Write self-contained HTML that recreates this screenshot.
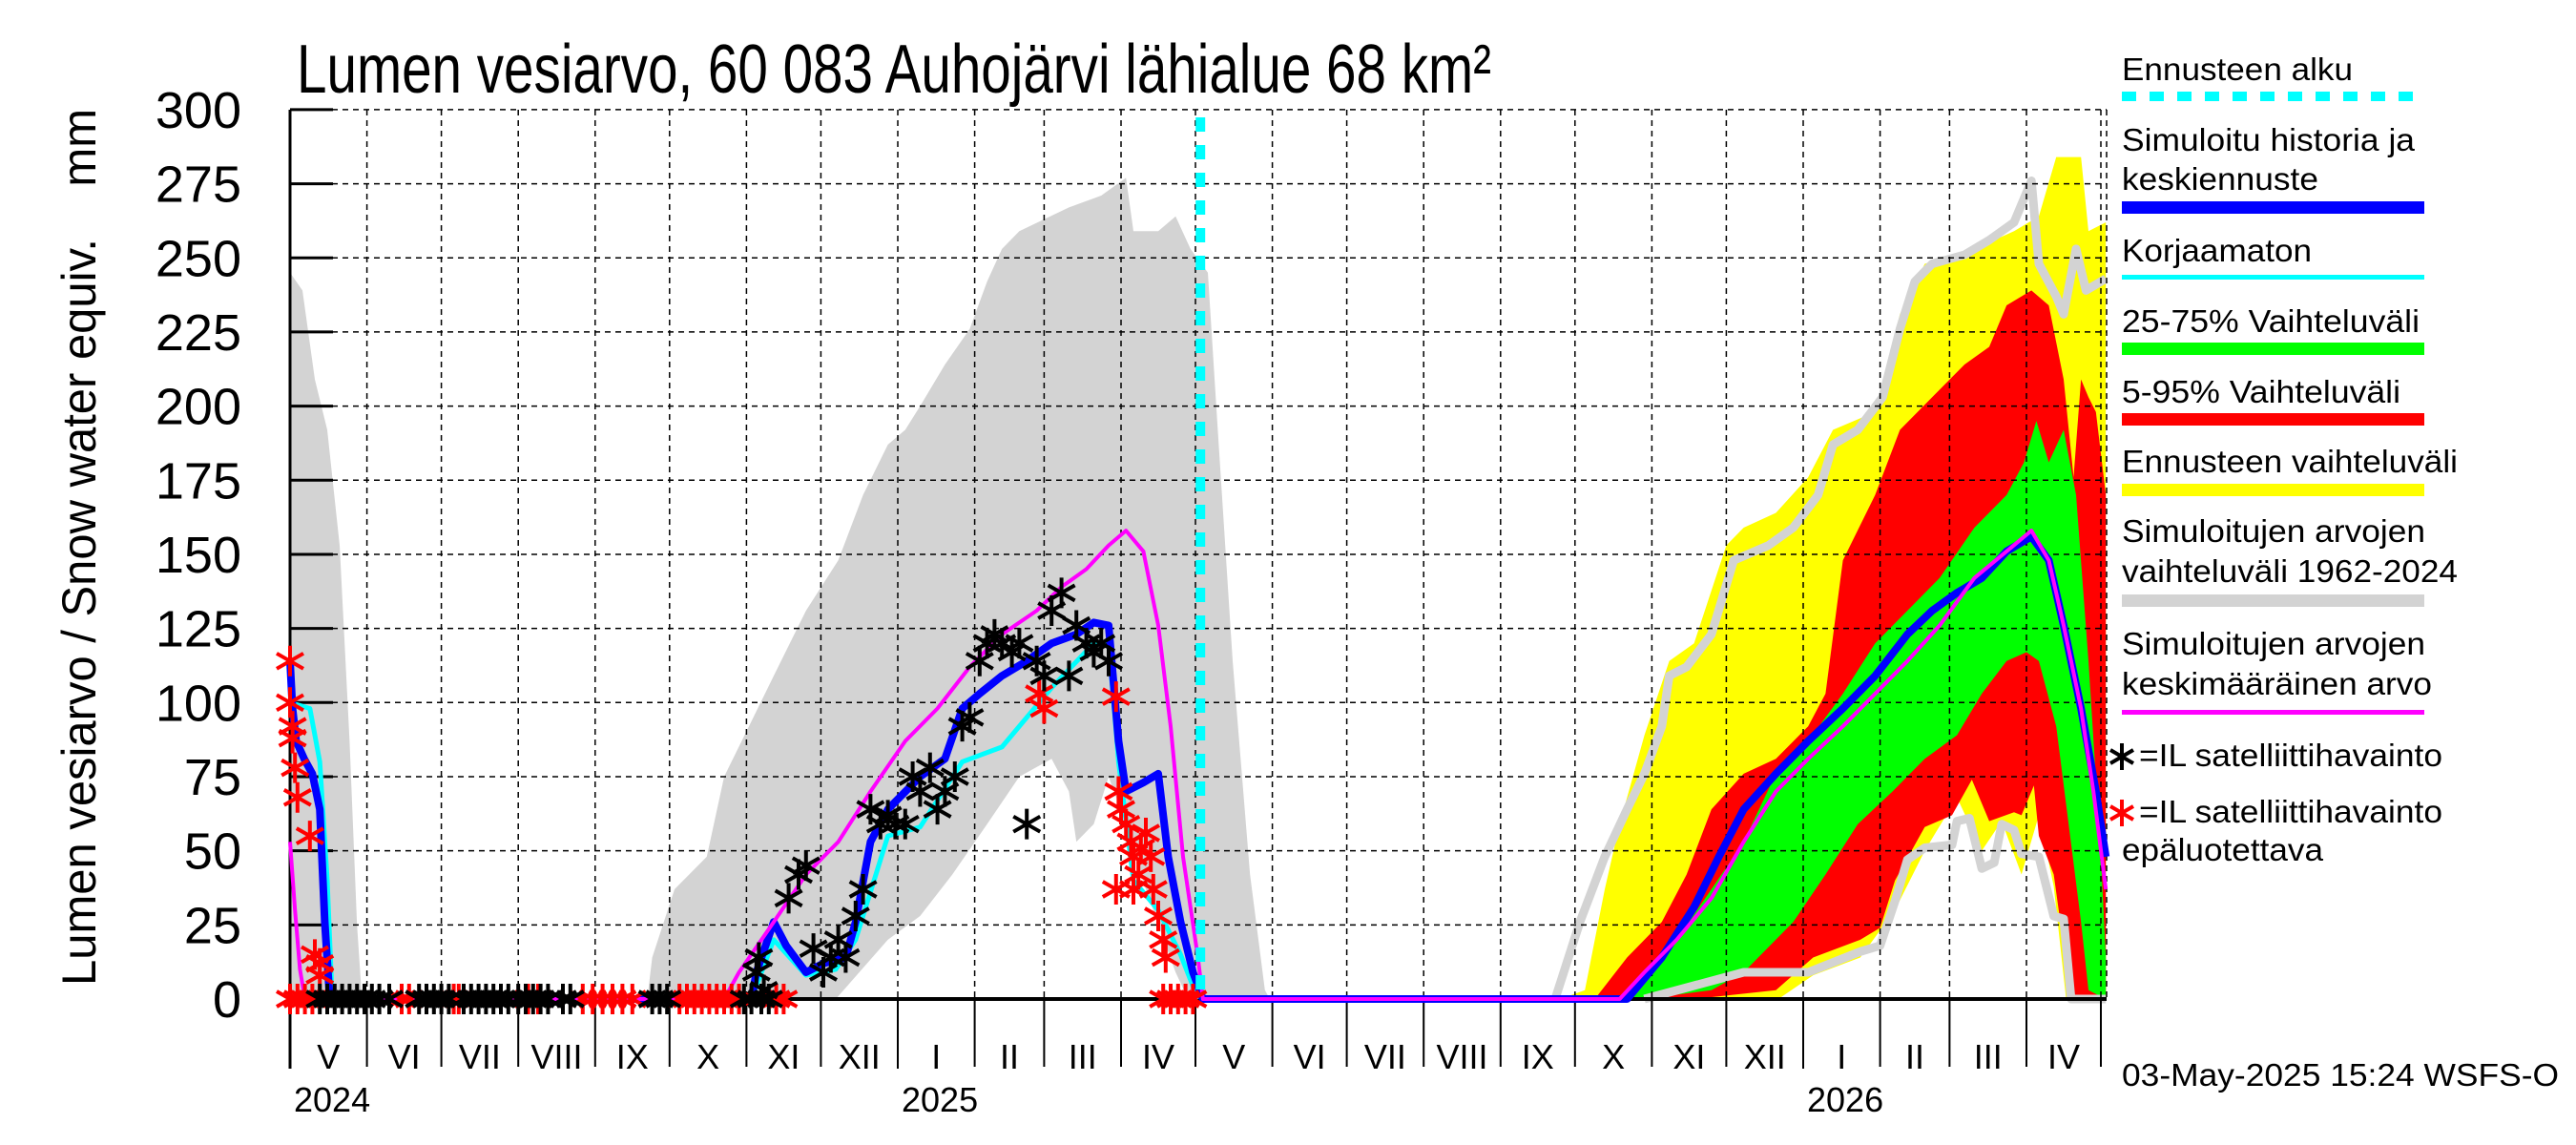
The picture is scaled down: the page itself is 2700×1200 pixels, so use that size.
<!DOCTYPE html>
<html><head><meta charset="utf-8"><title>Lumen vesiarvo</title>
<style>html,body{margin:0;padding:0;background:#fff}svg{display:block}text{font-family:"Liberation Sans",sans-serif;fill:#000}</style>
</head><body>
<svg id="chart" xmlns="http://www.w3.org/2000/svg" width="2700" height="1200" viewBox="0 0 2700 1200">
<rect x="0" y="0" width="2700" height="1200" fill="#fff"/>
<text x="311" y="97" font-size="72" textLength="1252" lengthAdjust="spacingAndGlyphs">Lumen vesiarvo, 60 083 Auhojärvi lähialue 68 km²</text>
<text transform="translate(100,1033) rotate(-90)" font-size="50" textLength="919" lengthAdjust="spacingAndGlyphs" xml:space="preserve">Lumen vesiarvo / Snow water equiv.    mm</text>
<g id="plot"></g>
<g id="legend">
<text x="2224" y="84" font-size="33" textLength="242" lengthAdjust="spacingAndGlyphs">Ennusteen alku</text>
<line x1="2224" y1="101" x2="2541" y2="101" stroke="#00ffff" stroke-width="10" stroke-dasharray="15 14"/>
<text x="2224" y="158" font-size="33" textLength="307" lengthAdjust="spacingAndGlyphs">Simuloitu historia ja</text>
<text x="2224" y="199" font-size="33" textLength="206" lengthAdjust="spacingAndGlyphs">keskiennuste</text>
<rect x="2224" y="211" width="317" height="13" fill="#0000ff"/>
<text x="2224" y="274" font-size="33" textLength="199" lengthAdjust="spacingAndGlyphs">Korjaamaton</text>
<rect x="2224" y="288" width="317" height="5" fill="#00ffff"/>
<text x="2224" y="348" font-size="33" textLength="312" lengthAdjust="spacingAndGlyphs">25-75% Vaihteluväli</text>
<rect x="2224" y="359" width="317" height="13" fill="#00ff00"/>
<text x="2224" y="422" font-size="33" textLength="292" lengthAdjust="spacingAndGlyphs">5-95% Vaihteluväli</text>
<rect x="2224" y="433" width="317" height="13" fill="#ff0000"/>
<text x="2224" y="495" font-size="33" textLength="352" lengthAdjust="spacingAndGlyphs">Ennusteen vaihteluväli</text>
<rect x="2224" y="507" width="317" height="13" fill="#ffff00"/>
<text x="2224" y="568" font-size="33" textLength="318" lengthAdjust="spacingAndGlyphs">Simuloitujen arvojen</text>
<text x="2224" y="610" font-size="33" textLength="352" lengthAdjust="spacingAndGlyphs">vaihteluväli 1962-2024</text>
<rect x="2224" y="623" width="317" height="13" fill="#d3d3d3"/>
<text x="2224" y="686" font-size="33" textLength="318" lengthAdjust="spacingAndGlyphs">Simuloitujen arvojen</text>
<text x="2224" y="728" font-size="33" textLength="325" lengthAdjust="spacingAndGlyphs">keskimääräinen arvo</text>
<rect x="2224" y="744" width="317" height="5" fill="#ff00ff"/>
<g stroke="#000" stroke-width="4"><line x1="2224" y1="779" x2="2224" y2="807"/><line x1="2212" y1="786" x2="2236" y2="800"/><line x1="2212" y1="800" x2="2236" y2="786"/></g>
<text x="2242" y="803" font-size="33" textLength="318" lengthAdjust="spacingAndGlyphs">=IL satelliittihavainto</text>
<g stroke="#ff0000" stroke-width="4"><line x1="2224" y1="838" x2="2224" y2="866"/><line x1="2212" y1="845" x2="2236" y2="859"/><line x1="2212" y1="859" x2="2236" y2="845"/></g>
<text x="2242" y="862" font-size="33" textLength="318" lengthAdjust="spacingAndGlyphs">=IL satelliittihavainto</text>
<text x="2224" y="902" font-size="33" textLength="211" lengthAdjust="spacingAndGlyphs">epäluotettava</text>
</g>
<text x="2224" y="1138" font-size="33" textLength="458" lengthAdjust="spacingAndGlyphs">03-May-2025 15:24 WSFS-O</text>
</svg>
<script>
// Days are counted from 2024-05-01; values in mm
const yTicks=[0,25,50,75,100,125,150,175,200,225,250,275,300];
const monthLabels=['V','VI','VII','VIII','IX','X','XI','XII','I','II','III','IV','V','VI','VII','VIII','IX','X','XI','XII','I','II','III','IV'];
const yearLabels=['2024','2025','2026'];
const forecastDay=367;
const gray1UpDays=[0,5,10,15,20,24,27,29];
const gray1UpVals=[245,239,209,192,153,87,25,0];
const gray2UpDays=[144,146,155,168,175,185,195,208,221,231,241,248,254,264,274,281,287,294,314,327,337,340,350,357,363,370,374,380,387,393,395];
const gray2UpVals=[0,14,37,48,75,92,109,131,148,170,187,192,200,214,226,242,253,259,267,271,277,259,259,264,253,245,192,114,42,3,0];
const gray2LoDays=[144,220,241,254,267,281,294,307,314,317,324,330,337,343,350,357,362,395];
const gray2LoVals=[0,0,20,28,42,59,75,81,70,53,59,75,59,42,25,9,0,0];
const gray3UpDays=[510,520,530,539,546,553,556,563,573,582,596,606,616,622,632,642,649,655,662,675,685,695,702,705,712,715,720,724,732];
const gray3UpVals=[0,26,48,64,76,92,109,112,123,148,153,159,170,187,192,203,226,242,248,251,256,262,276,248,237,231,253,239,243];
const gray3LoDays=[546,586,612,633,641,647,652,659,670,672,677,682,687,690,695,698,705,711,715,718,732];
const gray3LoVals=[0,9,9,16,18,33,47,51,52,60,61,44,46,59,57,49,48,28,27,0,0];
const yelUpDays=[512,522,530,536,546,556,566,579,586,599,612,622,639,649,659,679,695,705,712,722,725,732];
const yelUpVals=[0,3,37,59,89,114,120,153,159,164,176,192,198,231,248,253,259,264,284,284,259,262];
const yelLoDays=[512,600,614,633,647,659,672,682,690,698,705,711,716,732];
const yelLoVals=[0,0,8,14,30,50,68,50,60,42,62,38,0,0];
const redUpDays=[526,539,553,563,573,586,599,612,619,626,639,649,662,675,685,692,702,709,715,719,722,725,728,732];
const redUpVals=[0,14,26,42,64,76,81,92,103,148,170,192,203,214,220,234,239,234,209,176,209,203,198,170];
const redLoDays=[566,599,614,633,641,647,659,670,678,685,695,698,703,705,711,718,732];
const redLoVals=[0,3,14,20,24,40,58,62,74,60,63,62,72,55,42,0,0];
const grnUpDays=[536,546,559,573,586,599,612,626,639,652,665,679,692,699,704,709,715,720,725,730,732];
const grnUpVals=[0,6,20,37,53,76,87,103,120,131,142,159,170,181,195,181,192,170,114,48,14];
const grnLoDays=[546,573,586,606,619,632,646,659,672,682,692,700,705,712,717,722,725,732];
const grnLoVals=[0,3,9,26,42,59,70,81,89,103,114,117,114,92,59,26,3,0];
const blueDays=[0,1,2.5,5.7,9,12,14,16,186,188,195,200,208,215,224,228,234,241,254,264,271,278,287,297,307,317,324,330,334,337,344,350,354,359,364,368,539,553,566,576,586,599,612,626,639,652,662,672,682,692,702,709,715,722,728,732];
const blueVals=[114,98,87,81,76,64,26,0,0,9,26,18,9,12,14,26,53,64,75,81,98,103,109,114,120,123,127,126,87,70,73,76,48,26,9,0,0,14,31,48,64,76,87,98,109,123,131,137,142,151,156,148,126,98,70,48];
const cyanDays=[0,8,12,15,17,186,195,208,220,228,241,254,271,287,307,324,330,334,340,350,359,366];
const cyanVals=[100,98,80,40,0,0,20,8,10,20,55,58,80,85,105,120,120,80,40,30,15,0];
const magDays=[0,2,4,6,175,181,195,208,221,234,248,261,274,287,301,311,321,330,337,344,350,355,360,366,368,536,546,559,573,586,599,612,626,639,652,665,679,692,702,709,715,722,727,732];
const magVals=[53,30,10,0,0,9,26,42,53,70,87,98,112,123,131,139,145,153,158,151,126,92,48,14,0,0,9,20,34,53,70,81,92,103,114,126,142,151,158,148,126,98,70,37];
const blackDays=[189,188,191,201,205,208,211,215,218,221,224,228,231,234,238,241,244,248,251,254,258,261,264,268,271,274,278,281,284,287,291,294,297,301,304,307,311,314,317,321,324,327,330,12,15,18,21,24,27,30,33,36,40,52,55,58,61,64,70,73,76,79,82,85,88,92,95,98,101,104,110,113,146,149,152,183,186,190,193];
const blackVals=[14,9,3,34,42,45,17,9,14,20,14,28,37,64,59,62,59,59,75,70,78,64,70,75,92,95,114,120,123,120,117,120,59,114,109,131,137,109,126,120,117,120,114,0,0,0,0,0,0,0,0,0,0,0,0,0,0,0,0,0,0,0,0,0,0,0,0,0,0,0,0,0,0,0,0,0,0,0,0];
const redStarDays=[0,0,1,1,2,3,8,10,12,12,302,304,333,334,335,337,339,340,342,343,345,347,348,350,352,353,333,340,0,3,6,9,45,48,66,68,96,100,118,122,126,130,134,138,157,160,163,166,169,172,175,178,181,196,199,352,355,358,361,364];
const redStarVals=[114,100,92,88,78,68,55,15,12,8,103,98,102,70,64,59,53,48,42,51,56,48,37,28,20,14,37,37,0,0,0,0,0,0,0,0,0,0,0,0,0,0,0,0,0,0,0,0,0,0,0,0,0,0,0,0,0,0,0,0];

const X0=304,PXD=2.6,Y0=1047,PXV=3.107,XR=2208,YT=115;
const xs=d=>X0+d*PXD, ys=v=>Y0-v*PXV;
const NS='http://www.w3.org/2000/svg';
const plot=document.getElementById('plot');
function mk(tag,attrs,parent){const e=document.createElementNS(NS,tag);for(const k in attrs)e.setAttribute(k,attrs[k]);(parent||plot).appendChild(e);return e;}
function pts(ds,vs){return ds.map((d,i)=>xs(Math.min(d,732.3)).toFixed(1)+','+ys(vs[i]).toFixed(1));}
function band(ud,uv,ld,lv,color,name){
  const p=pts(ud,uv).concat(pts(ld,lv).reverse());
  const e=mk('polygon',{points:p.join(' '),fill:color});
  
  
}
function line(ds,vs,color,w,name){
  const e=mk('polyline',{points:pts(ds,vs).join(' '),fill:'none',stroke:color,'stroke-width':w,'stroke-linejoin':'round'});
  
  
}
band(gray1UpDays,gray1UpVals,[0,29],[0,0],'#d3d3d3','sim-range-2024');
band(gray2UpDays,gray2UpVals,gray2LoDays,gray2LoVals,'#d3d3d3','sim-range-2025');
band(yelUpDays,yelUpVals,yelLoDays,yelLoVals,'#ffff00','forecast-range-band');
band(redUpDays,redUpVals,redLoDays,redLoVals,'#ff0000','band-5-95');
band(grnUpDays,grnUpVals,grnLoDays,grnLoVals,'#00ff00','band-25-75');
line(gray3UpDays,gray3UpVals,'#d3d3d3',9,'sim-range-upper-2026');
line(gray3LoDays,gray3LoVals,'#d3d3d3',9,'sim-range-lower-2026');
const grid=mk('g',{});


yTicks.forEach(v=>{
  if(v>0){const g=mk('line',{x1:X0,x2:XR,y1:ys(v),y2:ys(v),stroke:'#000','stroke-width':1.5,'stroke-dasharray':'6 5'},grid);
  
  }
  const t=mk('line',{x1:X0,x2:X0+45,y1:ys(v),y2:ys(v),stroke:'#000','stroke-width':3},grid);
  
  
  const lb=mk('text',{x:253,y:ys(v)+19,'font-size':54,'text-anchor':'end'},grid);
  lb.textContent=v;
  
  
});
const start=Date.UTC(2024,4,1);
for(let i=0;i<=24;i++){
  const yr=2024+Math.floor((4+i)/12), mo=(4+i)%12;
  const d=(Date.UTC(yr,mo,1)-start)/864e5;
  const nd=(Date.UTC(yr+Math.floor((mo+1)/12),(mo+1)%12,1)-start)/864e5;
  if(i>0&&d<732){const g=mk('line',{x1:xs(d),x2:xs(d),y1:YT,y2:Y0,stroke:'#000','stroke-width':1.5,'stroke-dasharray':'6 5'},grid);
    
    }
  if(d<=733){const t=mk('line',{x1:xs(d),x2:xs(d),y1:Y0,y2:mo===0?1120:1118,stroke:'#000','stroke-width':2},grid);
    
    }
  if(i<24){const lb=mk('text',{x:xs((d+nd)/2),y:1120,'font-size':36,'text-anchor':'middle'},grid);
    lb.textContent=monthLabels[i];
    
    }
  if(i===0||mo===0){const yl=mk('text',{x:xs(d)+4,y:1165,'font-size':36},grid);
    yl.textContent=yearLabels[yr-2024];
    
    }
}
const rb=mk('line',{x1:XR,x2:XR,y1:YT,y2:Y0,stroke:'#000','stroke-width':1.5,'stroke-dasharray':'6 5'});


const ax=mk('line',{x1:X0,x2:X0,y1:YT,y2:1120,stroke:'#000','stroke-width':3});


const zl=mk('line',{x1:X0,x2:XR,y1:Y0,y2:Y0,stroke:'#000','stroke-width':4});


line(cyanDays,cyanVals,'#00ffff',5,'uncorrected-line');
line(blueDays,blueVals,'#0000ff',8,'simulated-line');
line(magDays,magVals,'#ff00ff',4,'sim-mean-line');
function stars(ds,vs,color,name){
  const g=mk('g',{stroke:color,'stroke-width':4});
  
  
  ds.forEach((d,i)=>{const cx=xs(d),cy=ys(vs[i]);
    const s=mk('path',{d:`M${cx} ${cy-16}V${cy+16}M${cx-14} ${cy-8}L${cx+14} ${cy+8}M${cx-14} ${cy+8}L${cx+14} ${cy-8}`},g);
    
    });
}
stars(redStarDays,redStarVals,'#ff0000','unreliable-satellite-obs');
stars(blackDays,blackVals,'#000000','satellite-obs');
const fl=mk('line',{x1:xs(forecastDay),x2:xs(forecastDay),y1:YT+8,y2:Y0,stroke:'#00ffff','stroke-width':10,'stroke-dasharray':'15 14'});


</script>
</body></html>
